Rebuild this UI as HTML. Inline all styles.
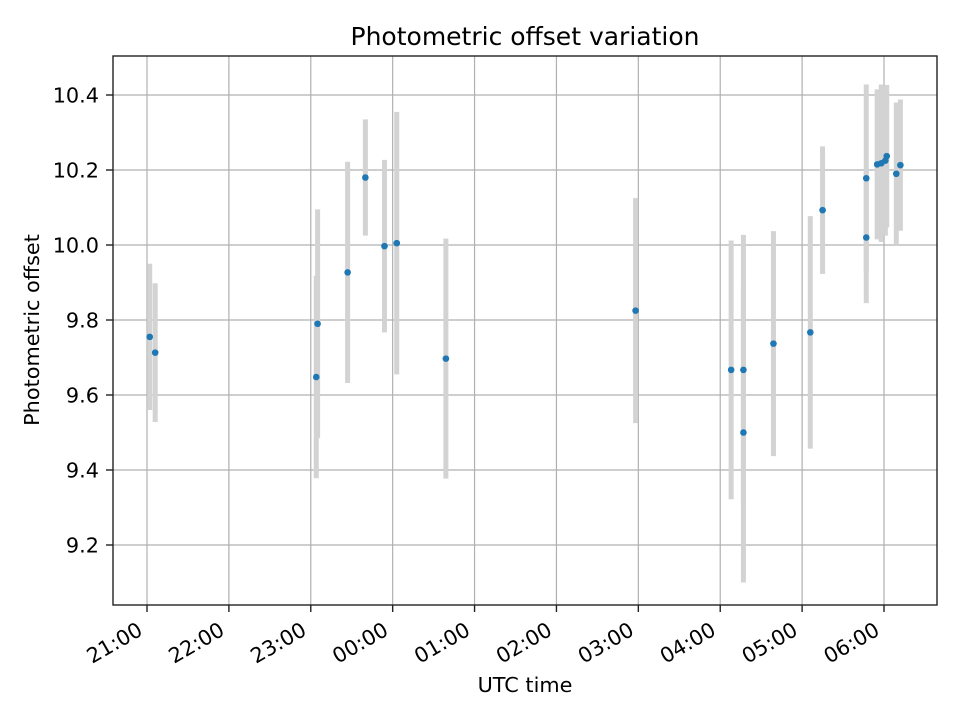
<!DOCTYPE html>
<html><head><meta charset="utf-8"><style>
body{margin:0;background:#fff}
svg{font-family:"DejaVu Sans","Liberation Sans",sans-serif}
</style></head><body>
<svg id="chart" width="960" height="720" xmlns="http://www.w3.org/2000/svg">
<rect width="960" height="720" fill="#fff"/>
<g id="grid"></g>
<g id="bars"></g>
<g id="points"></g>
<rect x="113" y="56" width="824" height="549" fill="none" stroke="#222" stroke-width="1.4"/>
<g id="axes"></g>
<text x="525" y="45" font-size="25" text-anchor="middle">Photometric offset variation</text>
<text x="525" y="692" font-size="20.8" text-anchor="middle">UTC time</text>
<text transform="translate(39,330) rotate(-90)" font-size="20.8" text-anchor="middle">Photometric offset</text>
</svg>
<script>
// minutes since 21:00 UTC
const times = [2,6,124,125,147,160,174,183,219,358,428,437,437,459,486,495,527,527,535,538,541,542,549,552];
const offsets = [9.755,9.713,9.648,9.79,9.927,10.18,9.997,10.005,9.697,9.825,9.667,9.667,9.5,9.737,9.767,10.093,10.178,10.02,10.215,10.218,10.225,10.237,10.19,10.213];
const errors = [0.195,0.185,0.27,0.305,0.295,0.155,0.23,0.35,0.32,0.30,0.345,0.36,0.4,0.30,0.31,0.17,0.25,0.175,0.2,0.21,0.2,0.19,0.19,0.175];
const xTickLabels = ["21:00","22:00","23:00","00:00","01:00","02:00","03:00","04:00","05:00","06:00"];
const xTickMinutes = [0,60,120,180,240,300,360,420,480,540];
const yTicks = [9.2,9.4,9.6,9.8,10.0,10.2,10.4];

const NS="http://www.w3.org/2000/svg";
function xs(m){return 147 + m*(884-147)/540;}
function ys(v){return 245 - (v-10.0)*(245-95)/0.4;}
function mk(tag,attrs,parent){const e=document.createElementNS(NS,tag);for(const k in attrs)e.setAttribute(k,attrs[k]);document.getElementById(parent).appendChild(e);return e;}

xTickMinutes.forEach((m,i)=>{
  const x=xs(m);
  const g=mk('line',{x1:x,x2:x,y1:56,y2:605,stroke:'#b0b0b0','stroke-width':1.2},'grid');
  
  
  const t=mk('line',{x1:x,x2:x,y1:605,y2:612,stroke:'#222','stroke-width':1.4},'axes');
  
  
  const l=mk('text',{transform:`translate(${x-3},634) rotate(-30)`,'text-anchor':'end','font-size':20.8},'axes');
  l.textContent=xTickLabels[i];
  
  
});
yTicks.forEach(v=>{
  const y=ys(v);
  const g=mk('line',{x1:113,x2:937,y1:y,y2:y,stroke:'#b0b0b0','stroke-width':1.2},'grid');
  
  
  const t=mk('line',{x1:106,x2:113,y1:y,y2:y,stroke:'#222','stroke-width':1.4},'axes');
  
  
  const l=mk('text',{x:99,y:y+7.6,'text-anchor':'end','font-size':20.8},'axes');
  l.textContent=v.toFixed(1);
  
  
});
times.forEach((m,i)=>{
  const x=xs(m);
  const b=mk('line',{x1:x,x2:x,y1:ys(offsets[i]-errors[i]),y2:ys(offsets[i]+errors[i]),stroke:'#d3d3d3','stroke-width':5},'bars');
  
  
});
times.forEach((m,i)=>{
  const p=mk('circle',{cx:xs(m),cy:ys(offsets[i]),r:3.3,fill:'#1f77b4'},'points');
  
  
});
</script>
</body></html>
